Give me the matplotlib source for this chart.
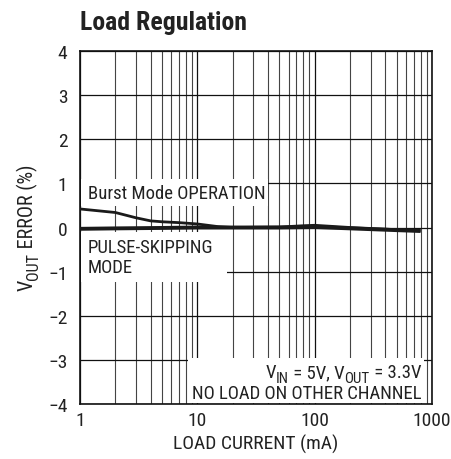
import matplotlib
matplotlib.use("Agg")
import matplotlib.pyplot as plt
from matplotlib.patches import Rectangle
from matplotlib import font_manager as fm

names = {f.name for f in fm.fontManager.ttflist}
FONT = "Liberation Sans"
for cand in ["Roboto Condensed", "Archivo Narrow", "PT Sans Narrow", "Liberation Sans Narrow",
             "Fira Sans Condensed", "IBM Plex Sans Condensed"]:
    if cand in names:
        FONT = cand
        break
plt.rcParams["font.family"] = [FONT, "DejaVu Sans"]

# ---- data ----
burst_x = [1, 2, 3, 4, 5, 7, 10, 15, 20, 50, 80, 100, 200, 500, 800]
burst_y = [0.42, 0.34, 0.22, 0.15, 0.13, 0.11, 0.08, 0.02, 0.0, 0.01, 0.04, 0.05, 0.0, -0.05, -0.07]
pulse_x = [1, 2, 5, 10, 20, 50, 100, 200, 500, 800]
pulse_y = [-0.03, -0.02, -0.01, 0.0, 0.0, 0.0, 0.01, -0.02, -0.06, -0.08]
x_ticks = [1, 10, 100, 1000]
x_ticklabels = ["1", "10", "100", "1000"]
y_ticks = [-4, -3, -2, -1, 0, 1, 2, 3, 4]
y_ticklabels = ["\u22124", "\u22123", "\u22122", "\u22121", "0", "1", "2", "3", "4"]

W, H = 451, 460
fig = plt.figure(figsize=(W / 100, H / 100), dpi=100)
L, R, T, B = 80, 432, 52, 405
ax = fig.add_axes([L / W, 1 - B / H, (R - L) / W, (B - T) / H])
TXT = "#222222"

ax.set_xscale("log")
ax.set_xlim(1, 1000)
ax.set_ylim(-4, 4)
ax.set_xticks(x_ticks)
ax.set_xticklabels(x_ticklabels)
ax.set_yticks(y_ticks)
ax.set_yticklabels(y_ticklabels)
ax.tick_params(which="both", length=0, labelsize=14, colors=TXT)
ax.tick_params(axis="y", pad=9)
ax.tick_params(axis="x", pad=5)

ax.set_axisbelow(True)
ax.grid(True, which="major", color="#111111", lw=0.9)
ax.grid(True, which="minor", axis="x", color="#444444", lw=0.8)
for s in ax.spines.values():
    s.set_color("#111111")
    s.set_linewidth(1.2)


def px_box(x0, y0, x1, y1):
    ax.add_patch(Rectangle(((x0 - L) / (R - L), (B - y1) / (B - T)),
                           (x1 - x0) / (R - L), (y1 - y0) / (B - T),
                           transform=ax.transAxes, facecolor="white",
                           edgecolor="none", zorder=1.5))


px_box(81, 180, 268, 207)
px_box(81, 233, 227, 283)
px_box(188, 359, 424, 404)

renderer = fig.canvas.get_renderer()


def text_width(t, fs):
    a = fig.text(0, 0, "X" + t + "X", fontsize=fs)
    b = fig.text(0, 0, "XX", fontsize=fs)
    w = a.get_window_extent(renderer).width - b.get_window_extent(renderer).width
    a.remove()
    b.remove()
    return w


def rich(x_img, y_img, pieces, size, ha="left", rot=0, zorder=3):
    """pieces: list of (text, is_subscript). x_img/y_img: baseline anchor, image pixels."""
    sub_fs = size * 0.8
    drop = size * 0.25 * 100 / 72
    ws = [text_width(t, sub_fs if s else size) for t, s in pieces]
    total = sum(ws)
    off = {"left": 0, "center": -total / 2, "right": -total}[ha]
    pos = off
    for (t, s), w in zip(pieces, ws):
        fs = sub_fs if s else size
        d = drop if s else 0
        if rot == 0:
            xd, yd = x_img + pos, (H - y_img) - d
        else:
            xd, yd = x_img + d, (H - y_img) + pos
        fig.text(xd / W, yd / H, t, fontsize=fs, ha="left", va="baseline",
                 rotation=rot, rotation_mode="anchor", color=TXT, zorder=zorder)
        pos += w


TS = 13.5
ax.text((88 - L) / (R - L), (B - 194) / (B - T), "Burst Mode OPERATION",
        transform=ax.transAxes, fontsize=TS, va="center", ha="left", zorder=2, color=TXT)
ax.text((88 - L) / (R - L), (B - 258) / (B - T), "PULSE-SKIPPING\nMODE",
        transform=ax.transAxes, fontsize=TS, va="center", ha="left", zorder=2,
        linespacing=1.1, color=TXT)
rich(421, 378, [("V", False), ("IN", True), (" = 5V, V", False), ("OUT", True), (" = 3.3V", False)],
     TS, ha="right")
ax.text((421 - L) / (R - L), (B - 399) / (B - T), "NO LOAD ON OTHER CHANNEL",
        transform=ax.transAxes, fontsize=TS, va="baseline", ha="right", zorder=2, color=TXT)

ax.plot(burst_x, burst_y, color="#1a1a1a", lw=2.0, zorder=3, solid_capstyle="butt")
ax.plot(pulse_x, pulse_y, color="#1a1a1a", lw=2.8, zorder=3, solid_capstyle="butt")

ax.set_xlabel("LOAD CURRENT (mA)", fontsize=14, color=TXT)
ax.xaxis.set_label_coords(0.5, (B - 444) / (B - T))
ax.xaxis.label.set_va("center")

# y label with real subscript, rotated
rich(33, 228, [("V", False), ("OUT", True), (" ERROR (%)", False)], 14.5, ha="center", rot=90)

fig.text(L / W, 1 - 30 / H, "Load Regulation", fontsize=18.5, fontweight="bold",
         ha="left", va="baseline", color=TXT)

fig.savefig("out.png", dpi=100)
